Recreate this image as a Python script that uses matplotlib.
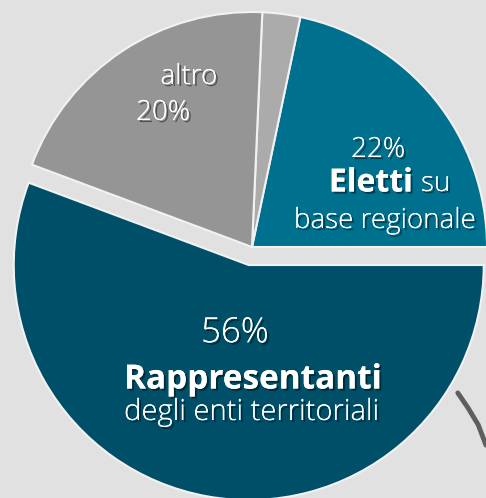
import matplotlib.pyplot as plt
import matplotlib.patheffects as pe

# Composition (percent), counter-clockwise from 3 o'clock
labels = ['Eletti su base regionale', 'n.d.', 'altro', 'Rappresentanti degli enti territoriali']
shares = [21.7, 2.6, 20.0, 55.7]
colors = ['#00708F', '#ABABAB', '#959595', '#004F68']
explode = [0, 0, 0, 0.078]

bg = '#E1E1E1'
plt.rcParams['font.family'] = ['Open Sans', 'DejaVu Sans']

fig = plt.figure(figsize=(4.86, 4.98), dpi=100, facecolor=bg)
ax = fig.add_axes([0, 0, 1, 1])
ax.set_facecolor(bg)

ax.pie(shares, colors=colors, explode=explode, startangle=0, counterclock=True,
       radius=1.0, wedgeprops=dict(edgecolor='#F2F2F2', linewidth=1.5))

# the pie is cropped by the frame, 1 unit = 235 px
ax.set_xlim(-252 / 235, 234 / 235)
ax.set_ylim(-251 / 235, 247 / 235)
ax.set_aspect('equal')
ax.axis('off')

# brush stroke decoration in the lower right corner
ax.plot([0.942, 0.963, 0.984, 1.0], [0.211, 0.181, 0.147, 0.106], transform=ax.transAxes,
        color='#5E5E5E', lw=3.5, solid_capstyle='round', zorder=5)

shadow = [pe.withSimplePatchShadow(offset=(1.5, -1.5), shadow_rgbFace='black', alpha=0.45),
          pe.Normal()]

def txt(px, py, s, size, weight='light', ha='center'):
    # place text by pixel position in the 486x498 frame
    ax.text(px / 486, 1 - py / 498, s, transform=ax.transAxes, ha=ha, va='center',
            fontsize=size, fontweight=weight, color='white', path_effects=shadow)

# altro
txt(189, 77, 'altro', 20)
txt(163, 113, f'{round(shares[2])}%', 20)

# Eletti su base regionale
txt(378, 150, f'{round(shares[0])}%', 20)
txt(413, 183, 'Eletti', 23, weight='bold', ha='right')
txt(421, 184, 'su', 20, ha='left')
txt(385, 221, 'base regionale', 20)

# Rappresentanti degli enti territoriali
txt(235, 333, f'{round(shares[3])}%', 25)
txt(253, 380, 'Rappresentanti', 24, weight='bold')
txt(252, 412, 'degli enti territoriali', 21)

fig.savefig('out.png', dpi=100, facecolor=bg)
